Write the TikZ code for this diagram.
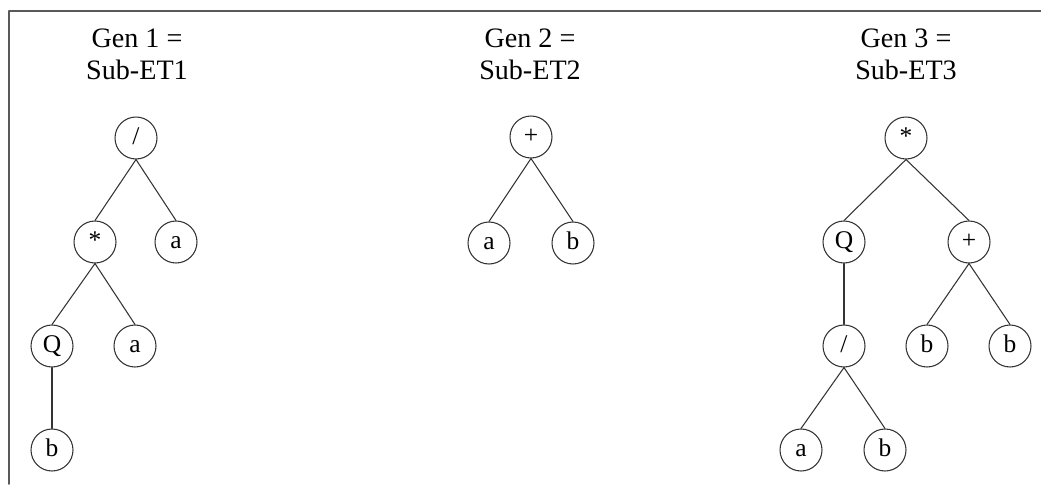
\documentclass[tikz,border=0pt]{standalone}
\usepackage{fontspec}
\setmainfont{Liberation Serif}
\usetikzlibrary{positioning}

\begin{document}
\begin{tikzpicture}
    [x=0.02cm,y=-0.02cm,line cap=round,line join=round,
     op/.style={circle,draw=black!80,line width=0.6pt,minimum size=0.84cm,inner sep=0pt,
                text height=0.72em,text depth=0pt,font=\fontsize{14.5}{17}\selectfont},
     gentitle/.style={align=center,font=\fontsize{16}{18.2}\selectfont},
     branch/.style={draw=black!80,line width=0.6pt}]
\useasboundingbox (0,0) rectangle (1041,484);
%frame round the picture
\draw[black!65,line width=0.9pt] (9,484) -- (9,11) -- (1041,11);
%titles
\node[gentitle] (gen1) at (137,54) {Gen 1 =\\Sub-ET1};
\node[gentitle] (gen2) at (530,54) {Gen 2 =\\Sub-ET2};
\node[gentitle] (gen3) at (906,54) {Gen 3 =\\Sub-ET3};

%tree 1
\node[op] (div1) at (136,138) {/};
\node[op] (mul1) at (95,242) {*};
\node[op] (a1) at (176,242) {a};
\node[op] (q1) at (52,346) {Q};
\node[op] (a2) at (135,346) {a};
\node[op] (b1) at (52,450) {b};
\draw[branch] (div1.south) -- (mul1.north);
\draw[branch] (div1.south) -- (a1.north);
\draw[branch] (mul1.south) -- (q1.north);
\draw[branch] (mul1.south) -- (a2.north);
\draw[branch] (q1.south) -- (b1.north);

%tree 2
\node[op] (add2) at (531,137) {+};
\node[op] (a3) at (489,243) {a};
\node[op] (b2) at (573,243) {b};
\draw[branch] (add2.south) -- (a3.north);
\draw[branch] (add2.south) -- (b2.north);

%tree 3
\node[op] (mul3) at (906,138) {*};
\node[op] (q3) at (844,242) {Q};
\node[op] (add3) at (969,242) {+};
\node[op] (div3) at (844,346) {/};
\node[op] (b3) at (927,346) {b};
\node[op] (b4) at (1010,346) {b};
\node[op] (a4) at (801,450) {a};
\node[op] (b5) at (885,450) {b};
\draw[branch] (mul3.south) -- (q3.north);
\draw[branch] (mul3.south) -- (add3.north);
\draw[branch] (q3.south) -- (div3.north);
\draw[branch] (add3.south) -- (b3.north);
\draw[branch] (add3.south) -- (b4.north);
\draw[branch] (div3.south) -- (a4.north);
\draw[branch] (div3.south) -- (b5.north);
\end{tikzpicture}
\end{document}
